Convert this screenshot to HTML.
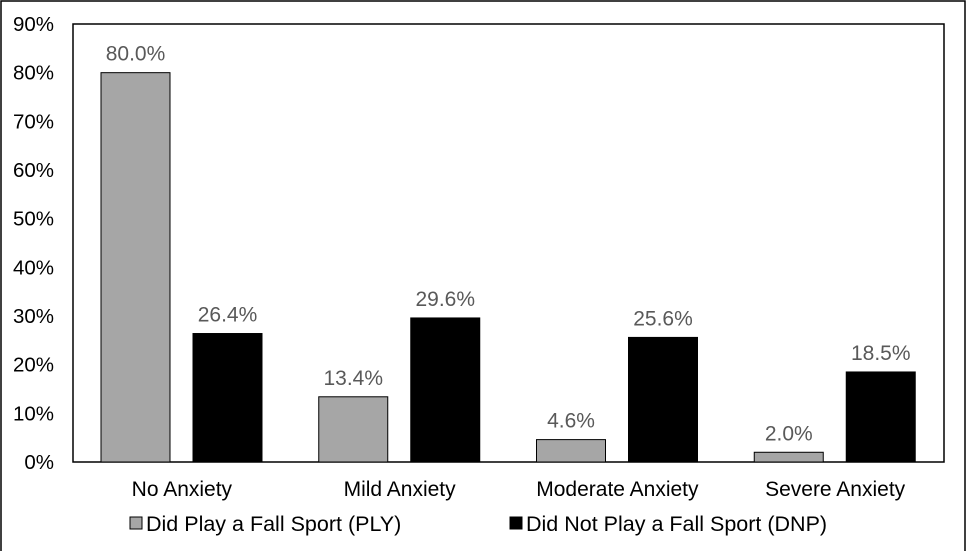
<!DOCTYPE html>
<html><head><meta charset="utf-8"><style>
body{margin:0;background:#fff;}
svg{display:block;font-family:"Liberation Sans",Arial,sans-serif;}
</style></head><body>
<svg width="970" height="551">
<rect x="1" y="1" width="964" height="560" fill="none" stroke="#000" stroke-width="1.5"/>
<rect x="73" y="24" width="871" height="438" fill="none" stroke="#000" stroke-width="1.5"/>
<g id="yaxis"></g><g id="bars"></g><g id="xaxis"></g>
<g>
<rect x="130" y="517" width="12" height="12" fill="#a6a6a6" stroke="#000"/>
<text x="146" y="531" font-size="21.5" fill="#000">Did Play a Fall Sport (PLY)</text>
<rect x="510" y="517" width="12" height="12" fill="#000" stroke="#000"/>
<text x="526" y="531" font-size="21.5" fill="#000">Did Not Play a Fall Sport (DNP)</text>
</g>
</svg>
<script>
const categories=["No Anxiety","Mild Anxiety","Moderate Anxiety","Severe Anxiety"];
const plyValues=[80.0,13.4,4.6,2.0];
const dnpValues=[26.4,29.6,25.6,18.5];
const yTicks=[0,10,20,30,40,50,60,70,80,90];
const NS="http://www.w3.org/2000/svg";
const x0=73,x1=944,yTop=24,yBot=462,yMax=90;
const catW=(x1-x0)/categories.length;
function y(v){return yBot-(v/yMax)*(yBot-yTop);}
function mk(tag,attrs,parent,text){const e=document.createElementNS(NS,tag);for(const k in attrs)e.setAttribute(k,attrs[k]);if(text!==undefined)e.textContent=text;parent.appendChild(e);return e;}
const ya=document.getElementById('yaxis'),bg=document.getElementById('bars'),xa=document.getElementById('xaxis');
yTicks.forEach(t=>{const e=mk('text',{x:54,y:y(t)+7,'font-size':20.5,'text-anchor':'end',fill:'#000'},ya,t+'%');

});
categories.forEach((c,i)=>{const cx=x0+i*catW;
const series=[[plyValues[i],'#a6a6a6',28,'bar-ply'],[dnpValues[i],'#000',120,'bar-dnp']];
series.forEach(s=>{const bx=cx+s[2],w=69;
const r=mk('rect',{x:bx,y:y(s[0]),width:w,height:yBot-y(s[0]),fill:s[1],stroke:'#000','stroke-width':1},bg);


const l=mk('text',{x:bx+w/2,y:y(s[0])-12,'font-size':21,'text-anchor':'middle',fill:'#595959'},bg,s[0].toFixed(1)+'%');

});
const t=mk('text',{x:cx+catW/2,y:496,'font-size':21,'text-anchor':'middle',fill:'#000'},xa,c);

});
</script>
</body></html>
